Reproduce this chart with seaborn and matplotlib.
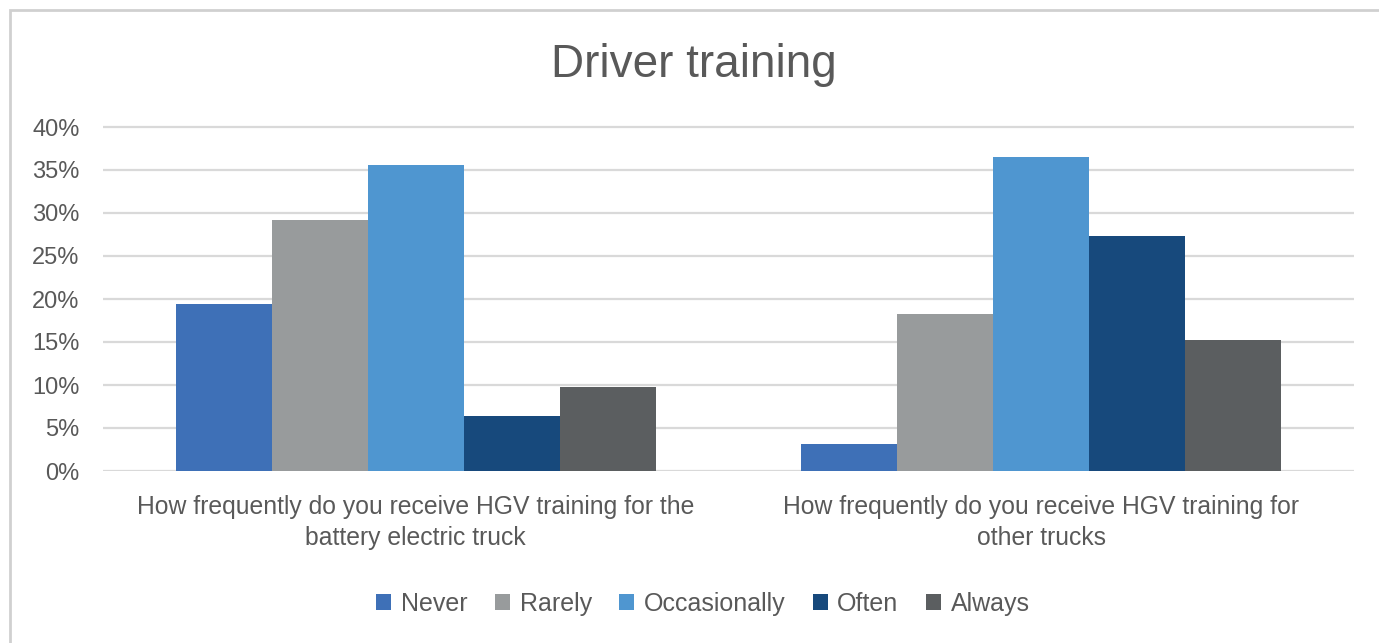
import pandas as pd
import numpy as np
import matplotlib as mpl
import matplotlib.pyplot as plt
import seaborn as sns
from matplotlib.ticker import PercentFormatter
from matplotlib.patches import Rectangle

# data
questions = ["How frequently do you receive HGV training for the\nbattery electric truck",
             "How frequently do you receive HGV training for\nother trucks"]
answers = ["Never", "Rarely", "Occasionally", "Often", "Always"]
battery_truck = [0.194, 0.292, 0.356, 0.064, 0.098]
other_trucks = [0.031, 0.183, 0.365, 0.273, 0.152]
colors = ["#3E70B7", "#989B9C", "#4F96D0", "#17497C", "#5B5E60"]

df = pd.DataFrame({
    "question": [questions[0]] * 5 + [questions[1]] * 5,
    "answer": answers * 2,
    "share": battery_truck + other_trucks,
})

sns.set_style("white")
plt.rcParams["font.family"] = ["Liberation Sans", "DejaVu Sans"]
text_grey = "#595959"

fig = plt.figure(figsize=(13.79, 6.43), dpi=100)
ax = fig.add_axes([103 / 1379, 1 - 471 / 643, 1251 / 1379, 346 / 643])

sns.barplot(data=df, x="question", y="share", hue="answer", hue_order=answers,
            palette=colors, width=0.768, saturation=1, linewidth=0, ax=ax, legend=True)

ax.set_ylim(0, 0.4 * 346 / 344)
ax.set_yticks(np.arange(0, 0.41, 0.05))
ax.yaxis.set_major_formatter(PercentFormatter(1.0, decimals=0))
ax.grid(axis="y", color="#D9D9D9", linewidth=1.6)
ax.set_axisbelow(True)
for s in ax.spines.values():
    s.set_visible(False)
ax.tick_params(axis="y", length=0, labelsize=17, labelcolor=text_grey, pad=17)
ax.tick_params(axis="x", length=0, labelsize=17.8, labelcolor=text_grey, pad=17)
for lbl in ax.get_xticklabels():
    lbl.set_linespacing(1.4)
ax.set_xlabel("")
ax.set_ylabel("")

fig.suptitle("Driver training", x=694 / 1379, y=1 - 65 / 643, va="center",
             fontsize=33, color=text_grey)

ax.legend(loc="center", bbox_to_anchor=(703 / 1379, 1 - 604 / 643), bbox_transform=fig.transFigure,
          ncol=5, frameon=False, fontsize=18, labelcolor=text_grey,
          handlelength=0.6, handleheight=0.6, handletextpad=0.38, columnspacing=1.1)

# light frame around the chart area
fig.patches.append(Rectangle((10 / 1379, -0.1), 1.2, 1 - 10 / 643 + 0.1, transform=fig.transFigure,
                             fill=False, edgecolor="#D0D0D0", linewidth=2))

fig.savefig("out.png", dpi=100, facecolor="white")
